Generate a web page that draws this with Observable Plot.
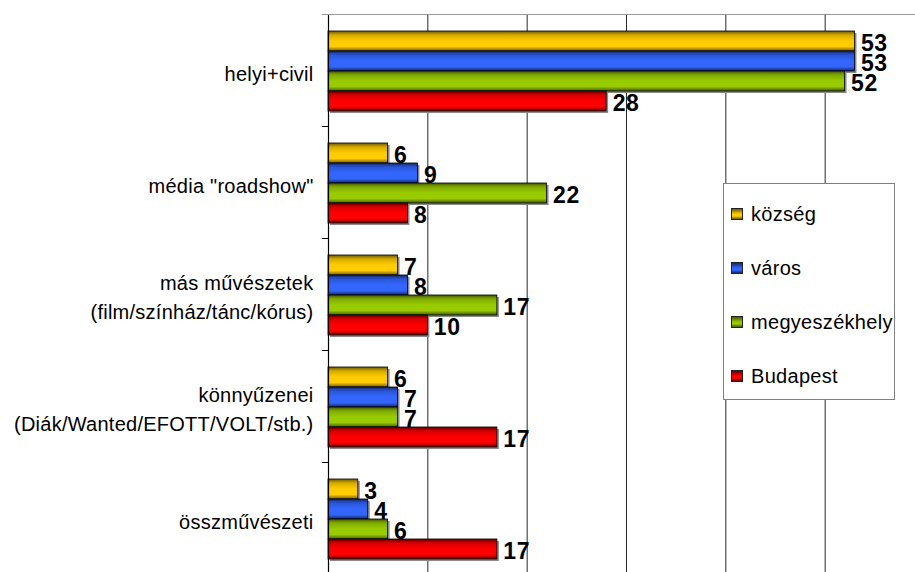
<!DOCTYPE html>
<html><head><meta charset="utf-8">
<script src="https://cdn.jsdelivr.net/npm/d3@7"></script>
<script src="https://cdn.jsdelivr.net/npm/@observablehq/plot@0.6"></script>
<style>
html,body{margin:0;padding:0;background:#fff;overflow:hidden;}
#wrap{position:relative;width:915px;height:572px;overflow:hidden;font-family:"Liberation Sans",Arial,sans-serif;}
#legend{position:absolute;left:723px;top:183px;width:172px;height:217px;border:1px solid #808080;background:#fff;box-sizing:border-box;padding-top:3px;}
.item{height:54px;display:flex;align-items:center;padding-left:7px;font-size:20px;letter-spacing:0.3px;color:#000;}
.sw{width:12px;height:12px;border:1px solid #222;margin-right:8px;box-sizing:border-box;}
</style></head><body><div id="wrap"></div>
<script>
// ---- data ----
const categories = [
  "helyi+civil",
  "média \"roadshow\"",
  "más művészetek\n(film/színház/tánc/kórus)",
  "könnyűzenei\n(Diák/Wanted/EFOTT/VOLT/stb.)",
  "összművészeti"
];
const series = ["község", "város", "megyeszékhely", "Budapest"];
const kozseg = [53, 6, 7, 6, 3];
const varos = [53, 9, 8, 7, 4];
const megyeszekhely = [52, 22, 17, 7, 6];
const budapest = [28, 8, 10, 17, 17];
const gridTicks = [10, 20, 30, 40, 50];

// ---- styles ----
const bright = ["#ffcc00", "#3366ff", "#99cc00", "#ff0000"];
const mid = ["#d6aa00", "#2a55d6", "#80aa00", "#d60000"];
const dark = ["#6e5800", "#142866", "#435900", "#660000"];

const valuesBySeries = [kozseg, varos, megyeszekhely, budapest];
const rows = [];
categories.forEach((c, i) => series.forEach((s, j) => rows.push({category: c, series: s, value: valuesBySeries[j][i]})));

const font = "\"Liberation Sans\", Arial, sans-serif";

const chart = Plot.plot({
  width: 915,
  height: 575,
  marginTop: 15,
  marginBottom: 0,
  marginLeft: 328,
  marginRight: -9,
  style: {fontFamily: font, fontSize: "20px", color: "#000", background: "transparent"},
  x: {domain: [0, 60], axis: null},
  y: {domain: series, axis: null, paddingInner: 0, paddingOuter: 0.7},
  fy: {domain: categories, padding: 0, axis: null},
  color: {domain: series, range: series.map((s, i) => `url(#grad${i})`)},
  marks: [
    Plot.gridX(gridTicks, {stroke: "#2a2a2a", strokeOpacity: 1, strokeWidth: 1}),
    Plot.barX(rows, {x: "value", y: "series", fy: "category", fill: "#8a8a8a", dx: 2, dy: 2}),
    Plot.barX(rows, {x: "value", y: "series", fy: "category", fill: "series", stroke: "#000", strokeWidth: 0.8}),
    Plot.ruleX([0], {stroke: "#000", strokeWidth: 1.2}),
    Plot.text(rows, {x: "value", y: "series", fy: "category", text: d => String(d.value), dx: 6, dy: 2, textAnchor: "start", fontWeight: "bold", fontSize: 23, fill: "#000"}),
    Plot.axisFy({anchor: "left", label: null, tickSize: 0, tickPadding: 15, fontSize: 20, lineHeight: 1.45, fill: "#000"})
  ]
});

const svg = d3.select(chart);
const defs = svg.insert("defs", ":first-child");
series.forEach((s, i) => {
  const g = defs.append("linearGradient").attr("id", `grad${i}`).attr("x1", 0).attr("y1", 0).attr("x2", 0).attr("y2", 1);
  [[0, dark[i]], [0.2, mid[i]], [0.5, bright[i]], [0.78, bright[i]], [1, dark[i]]].forEach(([o, c]) =>
    g.append("stop").attr("offset", o).attr("stop-color", c));
});
// slightly wider lettering, like the reference
svg.selectAll("g[aria-label='fy-axis tick label'] text").style("letter-spacing", "0.25px");
svg.selectAll("g[aria-label='text'] text").style("letter-spacing", "0.6px");

// category boundary ticks and top border, from the fy scale
const fy = chart.scale("fy");
const xs = chart.scale("x");
const x0 = xs.apply(0);
const bw = fy.bandwidth !== undefined ? fy.bandwidth : fy.step;
const bounds = categories.map(c => fy.apply(c)).concat([fy.apply(categories[categories.length - 1]) + bw]);
const overlay = svg.append("g");
bounds.forEach((y) => {
  overlay.append("line").attr("x1", x0 - 6).attr("x2", x0).attr("y1", y - 0.5).attr("y2", y - 0.5).attr("stroke", "#000");
});
overlay.append("line").attr("x1", x0 - 6).attr("x2", 915).attr("y1", bounds[0] - 0.5).attr("y2", bounds[0] - 0.5).attr("stroke", "#999");

const wrap = document.getElementById("wrap");
wrap.appendChild(chart);
const legend = document.createElement("div");
legend.id = "legend";
series.forEach((s, i) => {
  const it = document.createElement("div");
  it.className = "item";
  const sw = document.createElement("span");
  sw.className = "sw";
  sw.style.background = `linear-gradient(${dark[i]}, ${bright[i]} 50%, ${bright[i]} 70%, ${dark[i]})`;
  it.appendChild(sw);
  const t = document.createElement("span");
  t.textContent = s;
  it.appendChild(t);
  legend.appendChild(it);
});
wrap.appendChild(legend);
</script></body></html>
